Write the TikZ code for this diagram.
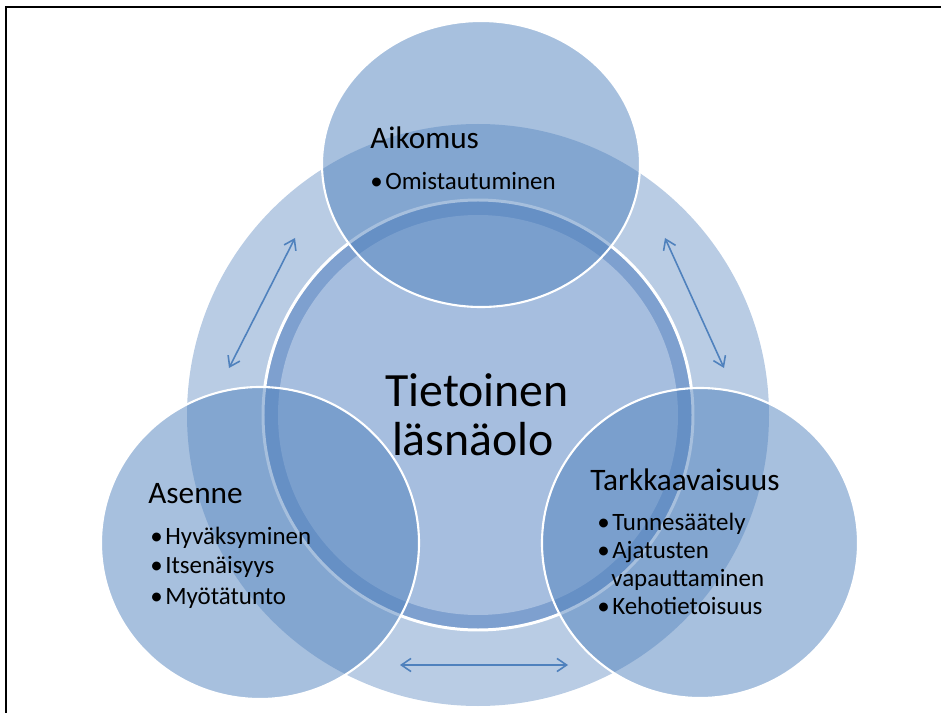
\documentclass[tikz,border=0pt]{standalone}
\usepackage{fontspec}
\setmainfont{Carlito}
\usetikzlibrary{arrows.meta}
\definecolor{ringOuter}{HTML}{B9CCE4}
\definecolor{ringBand}{HTML}{7EA0CF}
\definecolor{ringInner}{HTML}{A6BEDF}
\definecolor{satFill}{HTML}{4F81BD}
\definecolor{arrowBlue}{HTML}{4F81BD}
\newcommand{\bul}{\makebox[8.5pt][l]{\textbullet}}

\begin{document}
\begin{tikzpicture}[
    x=0.02cm, y=-0.02cm,
    sat/.style={fill=satFill, fill opacity=0.5, draw=white, draw opacity=1, line width=1.2pt},
    head/.style={anchor=base west, inner sep=0pt, font=\fontsize{17.8}{21}\selectfont},
    item/.style={anchor=base west, inner sep=0pt, font=\fontsize{14.2}{17}\selectfont},
    ttl/.style={anchor=base, inner sep=0pt, font=\fontsize{27.2}{30}\selectfont},
    dbl/.style={{Straight Barb[length=5.5pt,width=7.5pt]}-{Straight Barb[length=5.5pt,width=7.5pt]},
                color=arrowBlue, line width=0.9pt},
]
\useasboundingbox (0,0) rectangle (941,713);

% frame
\draw[line width=1.4pt] (6,713) -- (6,7) -- (941,7);

% centres
\coordinate (mid) at (478,415);
\coordinate (ctop) at (481,164);
\coordinate (cleft) at (260,543);
\coordinate (cright) at (700,543);

% outer ring and central circle
\fill[ringOuter] (mid) circle (291);
\fill[ringBand] (mid) circle (215);
\fill[ringInner] (mid) circle (200);
\draw[white, line width=1.7pt] (mid) circle (215);

% three circles
\draw[sat] (ctop) ellipse [x radius=159, y radius=143];
\draw[sat] (cleft) ellipse [x radius=159, y radius=156];
\draw[sat] (cright) ellipse [x radius=158, y radius=155];

% arrows
\coordinate (al1) at (229,368);
\coordinate (al2) at (295,238);
\coordinate (ar1) at (665,238);
\coordinate (ar2) at (724,368);
\coordinate (ab1) at (400,665);
\coordinate (ab2) at (568,665);
\draw[dbl] (al1) -- (al2);
\draw[dbl] (ar1) -- (ar2);
\draw[dbl] (ab1) -- (ab2);

% texts
\node[ttl] (ttl1) at (477,406) {Tietoinen};
\node[ttl] (ttl2) at (473,455) {läsnäolo};

\node[head] (aik) at (370,149) {Aikomus};
\node[item] (aik1) at (370,190) {\bul Omistautuminen};

\node[head] (ase) at (148,503) {Asenne};
\node[item] (ase1) at (150,544) {\bul Hyväksyminen};
\node[item] (ase2) at (150,573) {\bul Itsenäisyys};
\node[item] (ase3) at (150,604) {\bul Myötätunto};

\node[head] (tar) at (590,490) {Tarkkaavaisuus};
\node[item] (tar1) at (597,530) {\bul Tunnesäätely};
\node[item] (tar2) at (597,558) {\bul Ajatusten};
\node[item] (tar3) at (611,586) {vapauttaminen};
\node[item] (tar4) at (597,614) {\bul Kehotietoisuus};

\end{tikzpicture}
\end{document}
